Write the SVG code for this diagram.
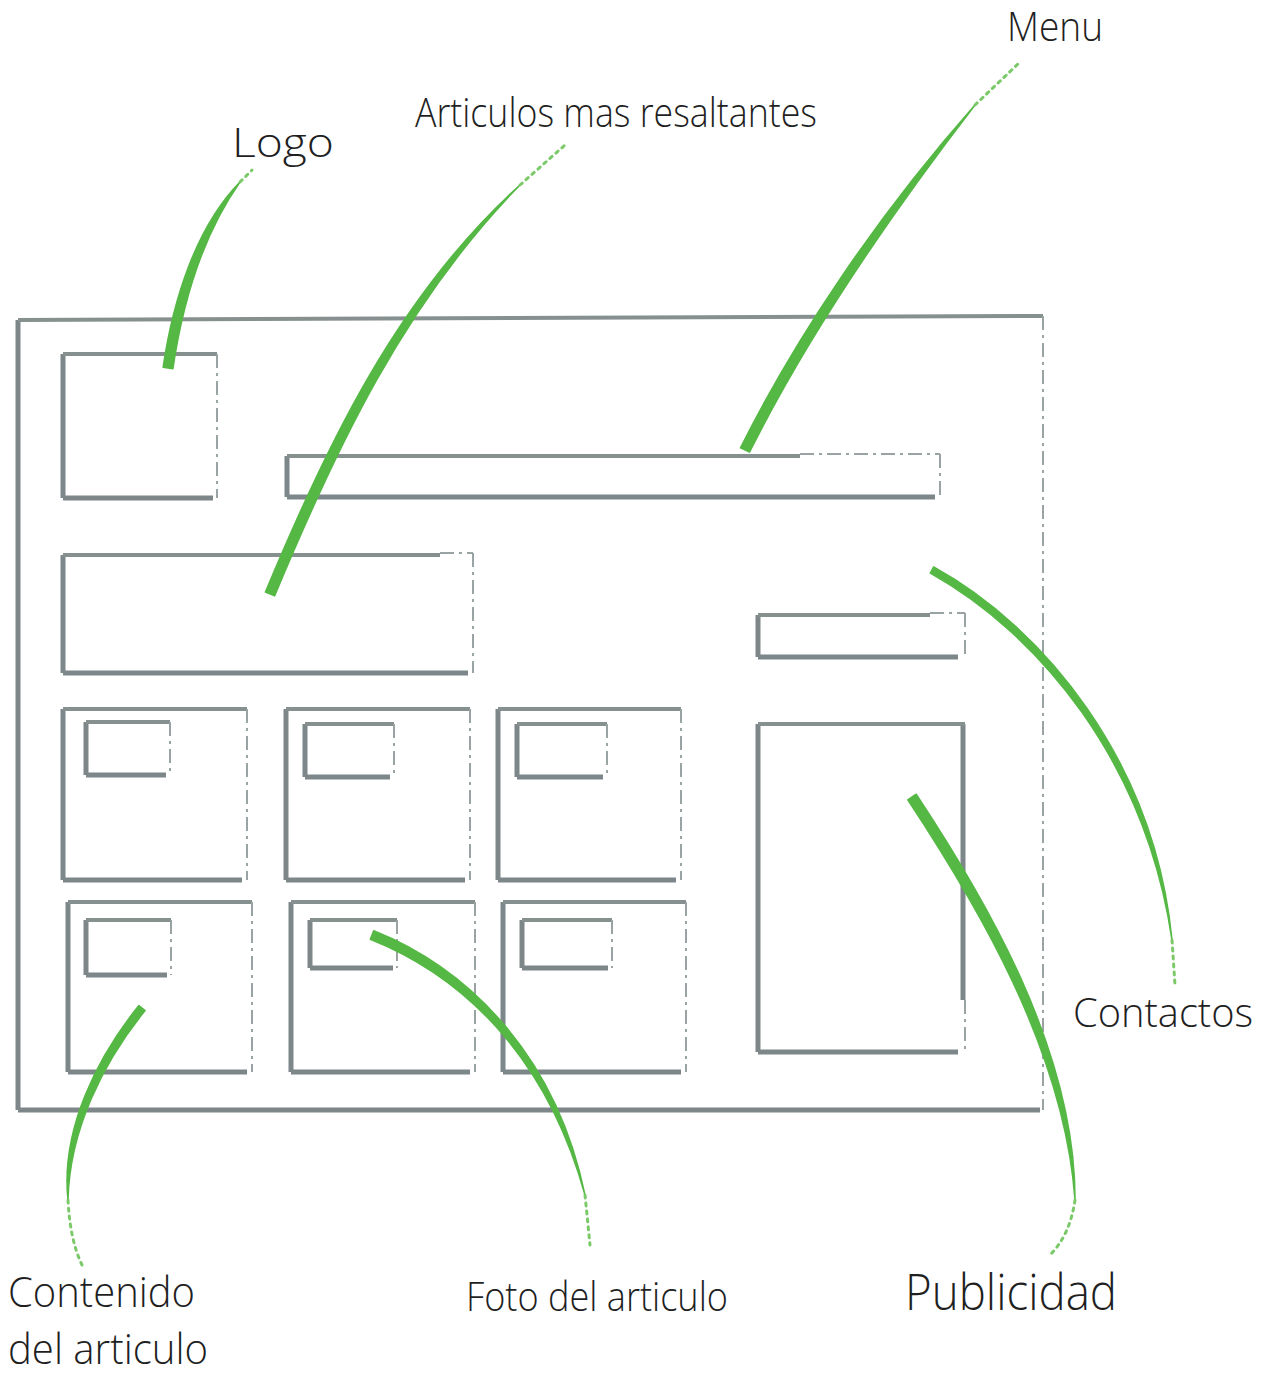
<svg xmlns="http://www.w3.org/2000/svg" width="1266" height="1376" viewBox="0 0 1266 1376">
<style>
.s{fill:none;stroke:#7d8789;stroke-width:5;stroke-linecap:butt}
.t{fill:none;stroke:#86908f;stroke-width:4}
.d{fill:none;stroke:#9aa3a4;stroke-width:2;stroke-dasharray:14 5 3 5}
.g{fill:#55b844;stroke:#55b844;stroke-width:1.5;stroke-linejoin:round}
.f{fill:none;stroke:#7cc96a;stroke-width:3;stroke-linecap:round;stroke-dasharray:3 5}
text{font-family:"Open Sans","Liberation Sans",sans-serif;font-weight:300;fill:#1f1f1f}
</style>
<rect width="1266" height="1376" fill="#fff"/>
<g id="frame">
<path class="s" d="M18 1110 V320"/><path class="t" d="M18 320 L1043 316"/><path class="s" d="M18 1110 H1040"/><path class="d" d="M1043 316 V1110"/>
</g>
<g id="logo-box"><path class="s" d="M63 498 V354 M63 498 H213"/><path class="t" d="M63 354 H217"/><path class="d" d="M217 354 V498"/></g>
<g id="menu-bar"><path class="s" d="M287 497 V456 M287 497 H935"/><path class="t" d="M287 456 H800"/><path class="d" d="M800 454 H940 M940 454 V497"/></g>
<g id="highlight-box"><path class="s" d="M63 673 V555 M63 673 H468"/><path class="t" d="M63 555 H440"/><path class="d" d="M440 553 H473 M473 553 V673"/></g>
<g id="contact-bar"><path class="s" d="M758 657 V615 M758 657 H958"/><path class="t" d="M758 615 H930"/><path class="d" d="M930 613 H965 M965 613 V657"/></g>
<g id="ad-box"><path class="s" d="M758 1052 V724 M758 1052 H958 M963 724 V1000"/><path class="t" d="M758 724 H965"/><path class="d" d="M965 1000 V1052"/></g>
<g id="card-1"><path class="s" d="M63 880 V709 M63 880 H242"/><path class="t" d="M63 709 H247"/><path class="d" d="M247 709 V880"/><path class="s" d="M86 775 V722 M86 775 H166"/><path class="t" d="M86 722 H170"/><path class="d" d="M170 722 V775"/></g>
<g id="card-2"><path class="s" d="M286 880 V709 M286 880 H465"/><path class="t" d="M286 709 H470"/><path class="d" d="M470 709 V880"/><path class="s" d="M305 777 V724 M305 777 H390"/><path class="t" d="M305 724 H394"/><path class="d" d="M394 724 V777"/></g>
<g id="card-3"><path class="s" d="M498 880 V709 M498 880 H676"/><path class="t" d="M498 709 H681"/><path class="d" d="M681 709 V880"/><path class="s" d="M517 777 V724 M517 777 H603"/><path class="t" d="M517 724 H607"/><path class="d" d="M607 724 V777"/></g>
<g id="card-4"><path class="s" d="M68 1072 V902 M68 1072 H247"/><path class="t" d="M68 902 H252"/><path class="d" d="M252 902 V1072"/><path class="s" d="M86 975 V920 M86 975 H167"/><path class="t" d="M86 920 H171"/><path class="d" d="M171 920 V975"/></g>
<g id="card-5"><path class="s" d="M291 1072 V902 M291 1072 H470"/><path class="t" d="M291 902 H475"/><path class="d" d="M475 902 V1072"/><path class="s" d="M310 968 V920 M310 968 H393"/><path class="t" d="M310 920 H397"/><path class="d" d="M397 920 V968"/></g>
<g id="card-6"><path class="s" d="M503 1072 V902 M503 1072 H681"/><path class="t" d="M503 902 H686"/><path class="d" d="M686 902 V1072"/><path class="s" d="M522 968 V920 M522 968 H608"/><path class="t" d="M522 920 H612"/><path class="d" d="M612 920 V968"/></g>
<g id="connectors">
<g id="c-logo"><path class="g" d="M163.1 367.3 C173.1 299.3 196.1 226.8 240 182 C203.9 233.2 182.9 300.7 172.9 368.7 Z"/><path class="f" d="M240 182 L252 170"/></g>
<g id="c-art"><path class="g" d="M265.4 592.1 C325.4 448.1 396.5 296.4 520 185 C403.5 303.6 334.6 451.9 274.6 595.9 Z"/><path class="f" d="M520 185 L565 145"/></g>
<g id="c-menu"><path class="g" d="M740.5 447.8 C795.5 337.8 876.1 216.8 975 105 C883.9 223.2 804.5 342.2 749.5 452.2 Z"/><path class="f" d="M975 105 L1020 62"/></g>
<g id="c-contact"><path class="g" d="M933.7 566.9 C1041.9 626.5 1154.5 759.5 1172 940 C1145.5 760.5 1038.1 633.5 930.3 573.1 Z"/><path class="f" d="M1172 940 L1175 985"/></g>
<g id="c-ad"><path class="g" d="M916.2 794.2 C984.2 897.2 1075.5 1049.8 1075 1200 C1064.5 1050.2 975.8 902.8 907.8 799.8 Z"/><path class="f" d="M1075 1200 Q1070 1235 1050 1255"/></g>
<g id="c-foto"><path class="g" d="M373.7 930.8 C461.7 965.8 554.9 1048.8 585 1195 C545.1 1051.2 458.3 974.2 370.3 939.2 Z"/><path class="f" d="M585 1195 L590 1245"/></g>
<g id="c-cont"><path class="g" d="M145.1 1010.5 C103.1 1062.5 69.5 1129.8 68 1200 C60.5 1130.2 96.9 1057.5 138.9 1005.5 Z"/><path class="f" d="M68 1200 Q70 1240 82 1265"/></g>
</g>
<g id="labels">
<text x="232" y="157" font-size="40" textLength="102" lengthAdjust="spacingAndGlyphs">Logo</text>
<text x="415" y="127" font-size="40" textLength="402" lengthAdjust="spacingAndGlyphs">Articulos mas resaltantes</text>
<text x="1007" y="41" font-size="40" textLength="96" lengthAdjust="spacingAndGlyphs">Menu</text>
<text x="1073" y="1027" font-size="40" textLength="180" lengthAdjust="spacingAndGlyphs">Contactos</text>
<text x="905" y="1310" font-size="50" textLength="212" lengthAdjust="spacingAndGlyphs">Publicidad</text>
<text x="466" y="1311" font-size="40" textLength="262" lengthAdjust="spacingAndGlyphs">Foto del articulo</text>
<text x="8" y="1307" font-size="42" textLength="187" lengthAdjust="spacingAndGlyphs">Contenido</text>
<text x="8" y="1364" font-size="42" textLength="200" lengthAdjust="spacingAndGlyphs">del articulo</text>
</g>
</svg>
